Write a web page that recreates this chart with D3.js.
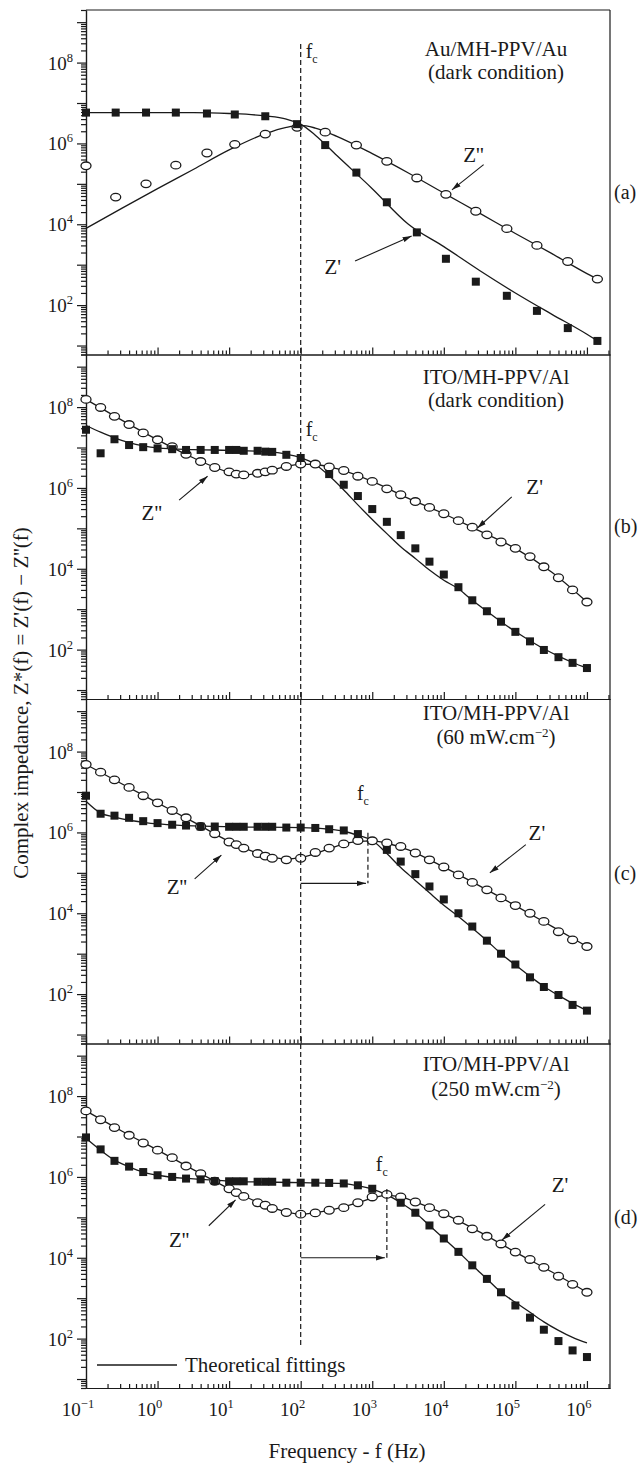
<!DOCTYPE html>
<html>
<head>
<meta charset="utf-8">
<script src="https://cdn.jsdelivr.net/npm/d3@7"></script>
<style>
  body { margin: 0; background: #fff; }
  svg { display: block; font-family: "Liberation Serif", "Times New Roman", serif; }
</style>
</head>
<body>
<svg id="chart" width="638" height="1463"></svg>
<script>
// ---- panel (a): Au/MH-PPV/Au, dark ----
const freqA = [0.1, 0.26, 0.69, 1.8, 4.9, 12, 32, 89, 220, 600, 1600, 4200, 1.07e4, 2.8e4, 7.6e4, 2.0e5, 5.4e5, 1.4e6];
const sqA = [5.8e6, 5.8e6, 5.8e6, 5.8e6, 5.5e6, 5.2e6, 4.7e6, 3.0e6, 9.1e5, 1.9e5, 3.5e4, 6.3e3, 1.4e3, 380, 170, 72, 27, 13];
const ciA = [2.8e5, 4.7e4, 1.0e5, 2.9e5, 5.8e5, 9.5e5, 1.7e6, 2.5e6, 1.9e6, 9.1e5, 3.6e5, 1.4e5, 5.5e4, 2.1e4, 7.8e3, 3.0e3, 1.2e3, 440];
const fitFreqA = [0.1, 0.32, 1, 3.2, 10, 32, 63, 100, 160, 320, 1000, 3200, 1e4, 3.2e4, 1e5, 3.2e5, 1e6, 1.4e6];
const fitSqA = [5.8e6, 5.8e6, 5.8e6, 5.8e6, 5.5e6, 4.8e6, 4.0e6, 3.0e6, 1.6e6, 5.0e5, 7.6e4, 1.0e4, 2.8e3, 710, 200, 60, 19, 13];
const fitCiA = [7.9e3, 2.5e4, 7.6e4, 2.3e5, 6.9e5, 1.74e6, 2.5e6, 2.8e6, 2.4e6, 1.5e6, 5.6e5, 1.86e5, 5.9e4, 1.86e4, 5.9e3, 1.9e3, 600, 440];

// ---- shared frequency grid for panels (b)-(d) ----
const freqBCD = [0.1, 0.16, 0.25, 0.4, 0.63, 1, 1.6, 2.5, 4, 6.3, 10, 12.6, 16, 25, 32, 40, 63, 100, 160, 250,
  400, 630, 1000, 1600, 2500, 4000, 6300, 1e4, 1.6e4, 2.5e4, 4e4, 6.3e4, 1e5, 1.6e5, 2.5e5, 4e5, 6.3e5, 1e6];

// ---- panel (b): ITO/MH-PPV/Al, dark ----
const ciB = [1.55e8, 9.8e7, 5.9e7, 3.7e7, 2.3e7, 1.55e7, 1.05e7, 6.8e6, 4.5e6, 3.2e6, 2.5e6, 2.2e6, 2.1e6, 2.3e6, 2.5e6, 2.75e6, 3.4e6, 3.9e6, 3.9e6, 3.3e6,
  2.7e6, 1.95e6, 1.45e6, 9.5e5, 6.8e5, 4.6e5, 3.3e5, 2.3e5, 1.55e5, 1.07e5, 6.9e4, 4.6e4, 3.2e4, 2.0e4, 1.12e4, 6.0e3, 3.0e3, 1.5e3];
const sqB = [2.75e7, 7.2e6, 1.6e7, 1.15e7, 1.02e7, 9.5e6, 9.1e6, 8.7e6, 8.7e6, 8.7e6, 8.7e6, 8.7e6, 8.3e6, 8.3e6, 7.9e6, 7.8e6, 6.6e6, 5.5e6, null, 2.2e6,
  1.2e6, 6.3e5, 3.0e5, 1.45e5, 6.8e4, 3.2e4, 1.5e4, 7.2e3, 3.5e3, 1.66e3, 890, 490, 275, 160, 98, 65, 47, 35];
const fitFreqSqB = [0.1, 0.16, 0.25, 0.4, 0.63, 1, 3.2, 10, 32, 63, 100, 160, 250, 400, 630, 1000, 1600, 2500, 4000, 6300,
  1e4, 1.6e4, 2.5e4, 4e4, 6.3e4, 1e5, 1.6e5, 2.5e5, 4e5, 6.3e5, 1e6];
const fitSqB = [3.5e7, 2.4e7, 1.74e7, 1.32e7, 1.1e7, 9.8e6, 8.9e6, 8.5e6, 7.9e6, 6.9e6, 5.6e6, 3.8e6, 2.0e6, 8.9e5, 3.8e5, 1.66e5, 7.4e4, 3.5e4, 1.8e4, 9.3e3,
  5.2e3, 3.2e3, 1.66e3, 890, 490, 280, 166, 105, 69, 48, 35];
const fitFreqCiB = [0.1, 0.32, 1, 3.2, 10, 16, 32, 63, 100, 160, 320, 1000, 3200, 1e4, 3.2e4, 1e5, 3.2e5, 1e6];
const fitCiB = [1.55e8, 4.7e7, 1.55e7, 5.5e6, 2.45e6, 2.1e6, 2.5e6, 3.4e6, 3.9e6, 3.8e6, 3.0e6, 1.45e6, 5.5e5, 2.3e5, 8.5e4, 3.2e4, 8.3e3, 1.5e3];

// ---- panel (c): ITO/MH-PPV/Al, 60 mW/cm2 ----
const ciC = [4.8e7, 3.1e7, 2.0e7, 1.3e7, 8.1e6, 5.4e6, 3.5e6, 2.3e6, 1.4e6, 9.3e5, 5.8e5, 5.0e5, 4.1e5, 3.0e5, 2.6e5, 2.3e5, 2.1e5, 2.3e5, 3.2e5, 4.1e5,
  5.2e5, 6.3e5, 6.2e5, 5.5e5, 4.5e5, 3.1e5, 2.1e5, 1.4e5, 8.9e4, 5.8e4, 3.8e4, 2.4e4, 1.55e4, 1.0e4, 6.3e3, 3.5e3, 2.2e3, 1.5e3];
const sqC = [8.1e6, 2.9e6, 2.6e6, 2.3e6, 1.9e6, 1.7e6, 1.55e6, 1.48e6, 1.4e6, 1.4e6, 1.38e6, 1.38e6, 1.38e6, 1.38e6, 1.38e6, 1.38e6, 1.32e6, 1.32e6, 1.29e6, 1.2e6,
  1.12e6, 9.1e5, null, 3.7e5, 1.9e5, 9.3e4, 4.6e4, 2.2e4, 1.0e4, 4.7e3, 2.1e3, 1.0e3, 540, 260, 150, 95, 54, 39];
const fitFreqSqC = [0.1, 0.16, 0.25, 0.4, 0.63, 1, 2.5, 10, 100, 250, 400, 630, 1000, 1600, 2500, 4000, 6300, 1e4, 1.6e4, 2.5e4,
  4e4, 6.3e4, 1e5, 1.6e5, 2.5e5, 4e5, 6.3e5, 1e6];
const fitSqC = [5.9e6, 3.0e6, 2.4e6, 2.0e6, 1.78e6, 1.62e6, 1.48e6, 1.38e6, 1.32e6, 1.2e6, 1.07e6, 8.5e5, 6.3e5, 3.0e5, 1.35e5, 6.5e4, 3.2e4, 1.58e4, 8.3e3, 4.3e3,
  2.1e3, 1.0e3, 525, 275, 155, 93, 59, 39];
const fitFreqCiC = [0.1, 0.32, 1, 3.2, 10, 32, 63, 100, 160, 320, 630, 1000, 1600, 3200, 1e4, 3.2e4, 1e5, 3.2e5, 1e6];
const fitCiC = [4.8e7, 1.58e7, 5.4e6, 1.8e6, 6.0e5, 2.7e5, 2.2e5, 2.4e5, 3.0e5, 4.6e5, 6.0e5, 6.2e5, 5.4e5, 3.7e5, 1.38e5, 4.7e4, 1.55e4, 4.8e3, 1.5e3];

// ---- panel (d): ITO/MH-PPV/Al, 250 mW/cm2 ----
const ciD = [4.3e7, 2.6e7, 1.66e7, 1.07e7, 6.9e6, 4.6e6, 3.0e6, 1.86e6, 1.2e6, 7.8e5, 5.1e5, 4.1e5, 3.3e5, 2.3e5, 2.0e5, 1.66e5, 1.32e5, 1.2e5, 1.29e5, 1.5e5,
  1.74e5, 2.3e5, 3.2e5, 3.7e5, 3.2e5, 2.4e5, 1.74e5, 1.23e5, 8.5e4, 5.2e4, 3.4e4, 2.2e4, 1.38e4, 9.1e3, 5.8e3, 3.5e3, 2.2e3, 1.4e3];
const sqD = [9.5e6, 4.8e6, 2.5e6, 1.8e6, 1.32e6, 1.1e6, 1.0e6, 9.1e5, 8.7e5, 7.9e5, 7.8e5, 7.8e5, 7.8e5, 7.6e5, 7.6e5, 7.6e5, 7.2e5, 7.2e5, 7.2e5, 7.1e5,
  6.9e5, 6.2e5, 5.1e5, null, 2.3e5, 1.3e5, 6.3e4, 3.0e4, 1.4e4, 6.5e3, 3.0e3, 1.4e3, 660, 330, 166, 87, 51, 35];
const fitFreqSqD = [0.1, 0.16, 0.25, 0.4, 0.63, 1, 3.2, 10, 100, 400, 630, 1000, 1600, 2500, 4000, 6300, 1e4, 1.6e4, 2.5e4, 4e4,
  6.3e4, 1e5, 1.6e5, 2.5e5, 4e5, 6.3e5, 1e6];
const fitSqD = [9.1e6, 4.6e6, 2.6e6, 1.78e6, 1.32e6, 1.1e6, 8.9e5, 7.9e5, 7.2e5, 6.8e5, 6.0e5, 5.0e5, 3.6e5, 2.3e5, 1.3e5, 6.3e4, 3.0e4, 1.4e4, 6.5e3, 3.0e3,
  1.4e3, 790, 450, 260, 160, 107, 78];
const fitFreqCiD = [0.1, 0.32, 1, 3.2, 10, 32, 100, 250, 630, 1000, 1600, 2500, 4000, 1e4, 3.2e4, 1e5, 3.2e5, 1e6];
const fitCiD = [4.3e7, 1.35e7, 4.6e6, 1.5e6, 5.1e5, 2.0e5, 1.2e5, 1.48e5, 2.3e5, 3.0e5, 3.5e5, 3.2e5, 2.4e5, 1.23e5, 4.3e4, 1.38e4, 4.5e3, 1.4e3];

// characteristic frequencies f_c per panel
const fcFreq = [100, 100, 870, 1600];

// axis ticks
const xTickExp = [-1, 0, 1, 2, 3, 4, 5, 6];
const yTickExp = [2, 4, 6, 8];
const panelTags = ["(a)", "(b)", "(c)", "(d)"];
const titleLine1 = ["Au/MH-PPV/Au", "ITO/MH-PPV/Al", "ITO/MH-PPV/Al", "ITO/MH-PPV/Al"];
const titleLine2 = [["(dark condition)", null, ""], ["(dark condition)", null, ""], ["(60 mW.cm", "\u22122", ")"], ["(250 mW.cm", "\u22122", ")"]];

// ---- layout ----
const X0 = 86, X1 = 610, TOP = 10, PH = 344.5;
const ink = "#1a1a1a";
const svg = d3.select("#chart");

const x = d3.scaleLog().domain([0.1, 2.1e6]).range([X0, X1]);

const panels = [
  { freq: freqA, sq: sqA, ci: ciA, fSqF: fitFreqA, fSq: fitSqA, fCiF: fitFreqA, fCi: fitCiA,
    t1: 46, t2: 69, fcLab: 48, fcDx: 5, tag: 189,
    labels: [
      { text: "Z''", at: [2.6e4, 3.5e5], from: [3.6e4, 3.0e5], to: [1.3e4, 7.1e4] },
      { text: "Z'", at: [280, 590], from: [575, 1230], to: [3550, 5130] }
    ] },
  { freq: freqBCD, sq: sqB, ci: ciB, fSqF: fitFreqSqB, fSq: fitSqB, fCiF: fitFreqCiB, fCi: fitCiB,
    t1: 29, t2: 52, fcLab: 81, fcDx: 5, tag: 178,
    labels: [
      { text: "Z''", at: [0.83, 1.6e5], from: [2.0, 5.0e5], to: [5.0, 1.95e6] },
      { text: "Z'", at: [1.86e5, 7.1e5], from: [8.9e4, 6.0e5], to: [2.95e4, 1.02e5] }
    ] },
  { freq: freqBCD, sq: sqC, ci: ciC, fSqF: fitFreqSqC, fSq: fitSqC, fCiF: fitFreqCiC, fCi: fitCiC,
    t1: 21, t2: 45, fcLab: 101, fcDx: -5, tag: 181, fcRange: [5.5e4, 9.8e5],
    labels: [
      { text: "Z''", at: [1.86, 3.0e4], from: [3.3, 7.1e4], to: [7.8, 2.75e5] },
      { text: "Z'", at: [2.0e5, 6.5e5], from: [1.4e5, 5.0e5], to: [4.4e4, 1.0e5] }
    ] },
  { freq: freqBCD, sq: sqD, ci: ciD, fSqF: fitFreqSqD, fSq: fitSqD, fCiF: fitFreqCiD, fCi: fitCiD,
    t1: 27, t2: 52, fcLab: 127, fcDx: -5, tag: 180, fcRange: [1.0e4, 5.0e5],
    labels: [
      { text: "Z''", at: [2.0, 1.86e4], from: [5.2, 6.2e4], to: [12.3, 2.7e5] },
      { text: "Z'", at: [4.2e5, 4.3e5], from: [2.6e5, 2.1e5], to: [6.5e4, 2.75e4] }
    ] }
];

// arrowhead marker
svg.append("defs").append("marker")
  .attr("id", "arrow")
  .attr("viewBox", "0 0 10 6")
  .attr("refX", 10).attr("refY", 3)
  .attr("markerWidth", 9).attr("markerHeight", 6)
  .attr("markerUnits", "userSpaceOnUse")
  .attr("orient", "auto")
  .append("path").attr("d", "M0,0 L10,3 L0,6 Z").attr("fill", ink);

function powText(sel, exp, supSize) {
  sel.append("tspan").text("10");
  sel.append("tspan").attr("dy", -8).attr("font-size", supSize).text(exp);
}

const xMajor = xTickExp.map(e => Math.pow(10, e));
const xMinor = [];
xTickExp.forEach(e => d3.range(2, 10).forEach(m => {
  const v = m * Math.pow(10, e);
  if (v <= x.domain()[1]) xMinor.push(v);
}));

panels.forEach((p, i) => {
  const top = TOP + i * PH, bottom = top + PH;
  const y = d3.scaleLog().domain([6, 2e9]).range([bottom, top]);
  const g = svg.append("g");

  // y axis: decade ticks and minor ticks pointing out
  const yMajor = d3.range(1, 10).map(k => Math.pow(10, k));
  const yMinor = [];
  d3.range(0, 10).forEach(k => d3.range(2, 10).forEach(m => {
    const v = m * Math.pow(10, k);
    if (v >= y.domain()[0] && v <= y.domain()[1]) yMinor.push(v);
  }));
  g.append("g").attr("transform", `translate(${X0},0)`).attr("color", ink)
    .call(d3.axisLeft(y).tickValues(yMinor).tickSize(5).tickSizeOuter(0).tickFormat(""))
    .call(a => a.selectAll("line,path").attr("stroke-width", 1.2));
  g.append("g").attr("transform", `translate(${X0},0)`).attr("color", ink)
    .call(d3.axisLeft(y).tickValues(yMajor).tickSize(9).tickSizeOuter(0).tickFormat(""))
    .call(a => a.selectAll("line,path").attr("stroke-width", 1.2));

  yTickExp.forEach(e => {
    g.append("text")
      .attr("x", 73).attr("y", y(Math.pow(10, e)) + 7)
      .attr("text-anchor", "end").attr("font-size", 19).attr("fill", ink)
      .call(powText, e, 12.5);
  });

  // x axis at the bottom of each panel, ticks pointing in
  g.append("g").attr("transform", `translate(0,${bottom})`).attr("color", ink)
    .call(d3.axisBottom(x).tickValues(xMinor).tickSize(-4).tickSizeOuter(0).tickFormat(""))
    .call(a => a.selectAll("line,path").attr("stroke-width", 1.2));
  g.append("g").attr("transform", `translate(0,${bottom})`).attr("color", ink)
    .call(d3.axisBottom(x).tickValues(xMajor).tickSize(-7).tickSizeOuter(0).tickFormat(""))
    .call(a => a.selectAll("line,path").attr("stroke-width", 1.2));

  // theoretical fittings
  const line = d3.line().x(d => x(d[0])).y(d => y(d[1])).curve(d3.curveMonotoneX);
  g.append("path").datum(d3.zip(p.fSqF, p.fSq))
    .attr("d", line).attr("fill", "none").attr("stroke", ink).attr("stroke-width", 1.3);
  g.append("path").datum(d3.zip(p.fCiF, p.fCi))
    .attr("d", line).attr("fill", "none").attr("stroke", ink).attr("stroke-width", 1.3);

  // open circles
  g.selectAll("ellipse.ci").data(d3.zip(p.freq, p.ci).filter(d => d[1] != null)).join("ellipse")
    .attr("class", "ci")
    .attr("cx", d => x(d[0])).attr("cy", d => y(d[1]))
    .attr("rx", 5).attr("ry", 3.8)
    .attr("fill", "#fff").attr("stroke", ink).attr("stroke-width", 1.3);

  // filled squares
  g.selectAll("rect.sq").data(d3.zip(p.freq, p.sq).filter(d => d[1] != null)).join("rect")
    .attr("class", "sq")
    .attr("x", d => x(d[0]) - 4).attr("y", d => y(d[1]) - 4)
    .attr("width", 8).attr("height", 8).attr("fill", ink);

  // sample description
  g.append("text").attr("x", 496).attr("y", top + p.t1)
    .attr("text-anchor", "middle").attr("font-size", 21).attr("fill", ink)
    .text(titleLine1[i]);
  const t2 = g.append("text").attr("x", 496).attr("y", top + p.t2)
    .attr("text-anchor", "middle").attr("font-size", 21).attr("fill", ink);
  const parts = titleLine2[i];
  t2.append("tspan").text(parts[0]);
  if (parts[1]) {
    t2.append("tspan").attr("dy", -7).attr("font-size", 13).text(parts[1]);
    t2.append("tspan").attr("dy", 7).text(parts[2]);
  }

  // f_c label
  const fx = x(fcFreq[i]);
  const fcText = g.append("text").attr("x", fx + p.fcDx).attr("y", top + p.fcLab)
    .attr("font-size", 20).attr("fill", ink)
    .attr("text-anchor", p.fcDx < 0 ? "middle" : "start");
  fcText.append("tspan").text("f");
  fcText.append("tspan").attr("dy", 5).attr("font-size", 12).text("c");

  // shifted f_c marker with arrow
  if (p.fcRange) {
    g.append("line")
      .attr("x1", fx).attr("x2", fx)
      .attr("y1", y(p.fcRange[1])).attr("y2", y(p.fcRange[0]))
      .attr("stroke", ink).attr("stroke-width", 1.2).attr("stroke-dasharray", "5,3");
    g.append("line")
      .attr("x1", x(100)).attr("x2", fx - 2)
      .attr("y1", y(p.fcRange[0])).attr("y2", y(p.fcRange[0]))
      .attr("stroke", ink).attr("stroke-width", 1.2).attr("marker-end", "url(#arrow)");
  }

  // Z' / Z'' labels with arrows
  p.labels.forEach(l => {
    g.append("text").attr("x", x(l.at[0])).attr("y", y(l.at[1]))
      .attr("text-anchor", "middle").attr("font-size", 21).attr("fill", ink)
      .text(l.text);
    g.append("line")
      .attr("x1", x(l.from[0])).attr("y1", y(l.from[1]))
      .attr("x2", x(l.to[0])).attr("y2", y(l.to[1]))
      .attr("stroke", ink).attr("stroke-width", 1.1).attr("marker-end", "url(#arrow)");
  });

  // panel tag
  g.append("text").attr("x", 614).attr("y", top + p.tag)
    .attr("font-size", 20).attr("fill", ink).text(panelTags[i]);
});

const yBottom = TOP + 4 * PH;

// frame: top and right edges
svg.append("line").attr("x1", X0).attr("x2", X1).attr("y1", TOP).attr("y2", TOP)
  .attr("stroke", ink).attr("stroke-width", 1.2);
svg.append("line").attr("x1", X1).attr("x2", X1).attr("y1", TOP).attr("y2", yBottom)
  .attr("stroke", ink).attr("stroke-width", 1.2);

// f_c = 100 Hz dashed reference through all panels
svg.append("line")
  .attr("x1", x(fcFreq[0])).attr("x2", x(fcFreq[0]))
  .attr("y1", 44).attr("y2", 1348)
  .attr("stroke", ink).attr("stroke-width", 1.2).attr("stroke-dasharray", "5,3");

// x tick labels
xTickExp.forEach(e => {
  svg.append("text")
    .attr("x", x(Math.pow(10, e)) - 8).attr("y", 1416)
    .attr("text-anchor", "middle").attr("font-size", 19).attr("fill", ink)
    .call(powText, e < 0 ? "\u2212" + Math.abs(e) : String(e), 12.5);
});

// legend
svg.append("line").attr("x1", 97).attr("x2", 177).attr("y1", 1365).attr("y2", 1365)
  .attr("stroke", ink).attr("stroke-width", 1.3);
svg.append("text").attr("x", 185).attr("y", 1372)
  .attr("font-size", 21).attr("fill", ink).text("Theoretical fittings");

// axis titles
svg.append("text").attr("x", 347).attr("y", 1458)
  .attr("text-anchor", "middle").attr("font-size", 21).attr("fill", ink)
  .text("Frequency - f (Hz)");
svg.append("text")
  .attr("transform", "translate(28,703) rotate(-90)")
  .attr("text-anchor", "middle").attr("font-size", 21).attr("fill", ink)
  .text("Complex impedance, Z*(f) = Z'(f) \u2212 Z''(f)");
</script>
</body>
</html>
